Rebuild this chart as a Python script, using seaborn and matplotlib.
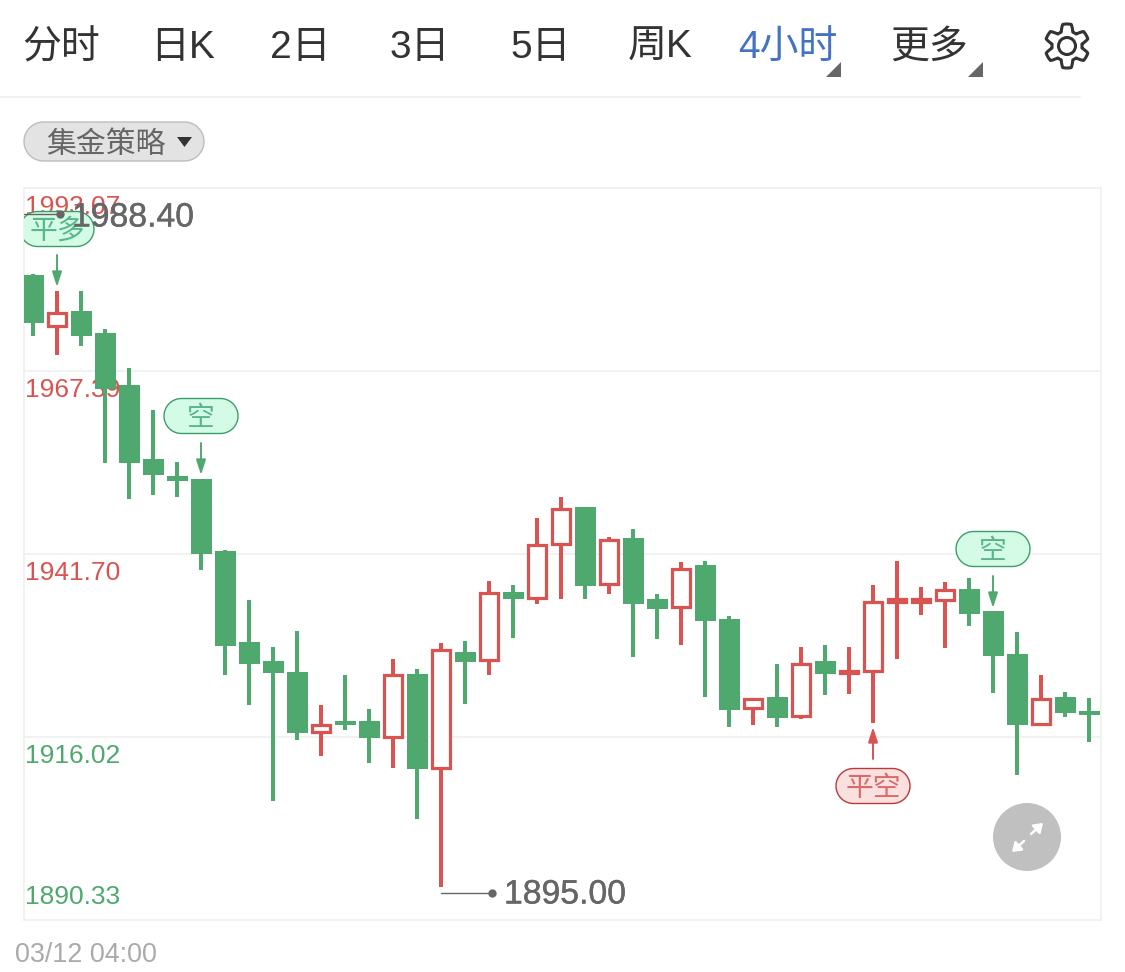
import numpy as np
import pandas as pd
import matplotlib
matplotlib.use('Agg')
import matplotlib.pyplot as plt
import matplotlib.patheffects as pe
from matplotlib.patches import Circle, Polygon, Rectangle
import seaborn as sns

# candles
opens = [1980.86, 1973.56, 1975.81, 1972.72, 1965.42, 1955.03, 1952.65, 1952.23, 1942.12, 1929.35,
         1926.68, 1925.14, 1916.57, 1918.26, 1918.26, 1915.87, 1924.86, 1911.52, 1927.94, 1926.68,
         1936.36, 1935.38, 1942.96, 1948.30, 1937.35, 1943.94, 1935.38, 1934.12, 1940.15, 1932.57,
         1919.94, 1921.63, 1918.82, 1926.68, 1924.86, 1925.14, 1934.82, 1934.82, 1935.10, 1936.79,
         1933.70, 1927.66, 1917.70, 1921.63, 1919.66]
closes = [1974.12, 1975.67, 1972.30, 1964.86, 1954.47, 1952.79, 1951.94, 1941.70, 1928.79, 1926.26,
          1925.00, 1916.57, 1917.84, 1917.70, 1915.87, 1924.86, 1911.52, 1928.36, 1926.54, 1936.36,
          1935.38, 1943.10, 1948.15, 1937.21, 1943.80, 1934.68, 1933.98, 1939.73, 1932.29, 1919.80,
          1921.49, 1918.68, 1926.40, 1924.86, 1925.42, 1935.10, 1935.52, 1935.52, 1936.79, 1933.28,
          1927.38, 1917.70, 1921.49, 1919.38, 1919.10]
highs = [1981.00, 1978.61, 1978.61, 1973.28, 1967.81, 1961.91, 1954.61, 1952.23, 1942.26, 1935.24,
         1928.65, 1930.89, 1920.50, 1924.71, 1919.94, 1926.96, 1925.56, 1929.21, 1929.49, 1937.91,
         1937.35, 1946.75, 1949.70, 1948.30, 1944.08, 1945.21, 1936.08, 1940.58, 1940.72, 1933.00,
         1921.49, 1926.26, 1928.65, 1928.93, 1928.65, 1937.35, 1940.72, 1937.07, 1937.77, 1938.33,
         1933.70, 1930.75, 1924.71, 1922.33, 1921.49]
lows = [1972.30, 1969.63, 1970.89, 1954.47, 1949.42, 1949.98, 1949.70, 1939.45, 1924.71, 1920.50,
        1907.03, 1915.59, 1913.35, 1916.99, 1912.36, 1911.66, 1904.50, 1895.00, 1920.64, 1924.71,
        1929.91, 1934.68, 1935.38, 1935.38, 1936.08, 1927.24, 1929.77, 1928.93, 1921.63, 1917.42,
        1917.70, 1917.42, 1918.54, 1921.91, 1922.05, 1917.98, 1926.96, 1933.14, 1928.50, 1931.59,
        1922.19, 1910.68, 1917.56, 1918.82, 1915.31]

price_ticks = [1993.07, 1967.39, 1941.70, 1916.02, 1890.33]
price_labels = ['1993.07', '1967.39', '1941.70', '1916.02', '1890.33']
tabs = ['分时', '日K', '2日', '3日', '5日', '周K', '4小时', '更多']

GREEN = '#4fa96f'
RED = '#d95350'
LINE = '#f0f0f0'

sns.set_style('white')
plt.rcParams['font.family'] = ['Liberation Sans', 'Noto Sans CJK SC']

W, H = 1125, 972
fig = plt.figure(figsize=(W / 100, H / 100), dpi=100)
fig.patch.set_facecolor('white')

# chart area, px 24..1101 / 188..920
ax = fig.add_axes([24 / W, 1 - 920 / H, (1101 - 24) / W, (920 - 188) / H])
df = pd.DataFrame({'i': range(len(opens)), 'o': opens, 'c': closes, 'h': highs, 'l': lows})
df['up'] = df['c'] >= df['o']
df['top'] = df[['o', 'c']].max(axis=1)
df['bot'] = df[['o', 'c']].min(axis=1)
up = df[df['up']]
down = df[~df['up']]

for part, col in [(up, RED), (down, GREEN)]:
    sns.barplot(x=part['i'].values, y=(part['h'] - part['l']).values, bottom=part['l'].values,
                native_scale=True, width=0.14, color=col, saturation=1, errorbar=None,
                linewidth=0, ax=ax, zorder=3)
sns.barplot(x=down['i'].values, y=(down['top'] - down['bot']).values, bottom=down['bot'].values,
            native_scale=True, width=0.875, color=GREEN, saturation=1, errorbar=None,
            linewidth=0, ax=ax, zorder=4)
# red bodies are outlined, part of the stroke goes inside the read edge
inset = 0.75 * (price_ticks[0] - price_ticks[-1]) / 732
sns.barplot(x=up['i'].values, y=(up['top'] - up['bot'] - 2 * inset).values, bottom=(up['bot'] + inset).values,
            native_scale=True, width=0.76, color='white', saturation=1, errorbar=None,
            edgecolor=RED, linewidth=2.3, ax=ax, zorder=4)

ax.set_xlim(-0.375, 44.5)
ax.set_ylim(price_ticks[-1], price_ticks[0])
ax.set_xticks([])
ax.set_yticks([])
ax.set_xlabel('')
ax.set_ylabel('')
for s in ax.spines.values():
    s.set_color(LINE)
    s.set_linewidth(1.2)
for p in price_ticks[1:-1]:
    ax.axhline(p, color=LINE, lw=1.2, zorder=1)

trans = ax.get_yaxis_transform()
offsets = [-19, -19, -19, -19, 23]
for p, lab, off, col in zip(price_ticks, price_labels, offsets,
                            [RED, RED, RED, GREEN, GREEN]):
    ax.annotate(lab, xy=(0, p), xycoords=trans, xytext=(1, off), textcoords='offset pixels',
                fontsize=19, color=col, va='center', ha='left', zorder=2)

# overlay in picture pixels for the app chrome
ui = fig.add_axes([0, 0, 1, 1])
ui.set_xlim(0, W)
ui.set_ylim(H, 0)
ui.axis('off')
ui.patch.set_alpha(0)

tab_x = [22, 150, 270, 390, 510, 628, 738, 890]
for name, x in zip(tabs, tab_x):
    ui.text(x, 48, name, fontsize=28, color='#4472c4' if name == '4小时' else '#333333',
            va='center', ha='left')
for x in (841, 983):
    ui.add_patch(Polygon([(x, 62), (x, 77), (x - 15, 77)], color='#666666', lw=0))
ui.plot([0, 1080], [97, 97], color=LINE, lw=1.4)

# gear
t = np.linspace(0, 2 * np.pi, 361)
rad = 18.5 + 3.5 * np.clip(1.8 * np.cos(6 * t) + 0.3, -1, 1)
ui.add_patch(Polygon(np.c_[1067 + rad * np.cos(t + np.pi / 2), 46 + rad * np.sin(t + np.pi / 2)],
                     closed=True, fill=False, ec='#333333', lw=2.2, joinstyle='round'))
ui.add_patch(Circle((1067, 46), 8.5, fill=False, ec='#333333', lw=2.2))


def pill(x0, x1, y0, y1, fc, ec):
    r = (y1 - y0) / 2
    a = np.linspace(-np.pi / 2, np.pi / 2, 40)
    pts = np.r_[np.c_[x1 - r + r * np.cos(a), y0 + r + r * np.sin(a)],
                np.c_[x0 + r - r * np.cos(a), y0 + r - r * np.sin(a)]]
    return ui.add_patch(Polygon(pts, closed=True, fc=fc, ec=ec, lw=1))


# strategy pill
pill(24, 204, 122, 161, '#e3e3e3', '#bdbdbd')
ui.text(46, 145, '集金策略', fontsize=21.5, color='#666666', va='center', ha='left')
ui.add_patch(Polygon([(177, 137), (192, 137), (184.5, 147)], color='#333333', lw=0))


def bubble(cx, cy, label, fc, ec, tc, clip=None):
    p = pill(cx - 37, cx + 37, cy - 17.5, cy + 17.5, fc, ec)
    if clip is not None:
        p.set_clip_path(Rectangle((clip, 0), W, H, transform=ui.transData))
    ui.text(cx, cy + 3, label, fontsize=20, color=tc, va='center', ha='center')


def arrow(x, y0, y1, col):
    ui.annotate('', xy=(x, y1), xytext=(x, y0),
                arrowprops=dict(arrowstyle='-|>,head_length=0.75,head_width=0.24', color=col, lw=1.4,
                                shrinkA=0, shrinkB=0, mutation_scale=12))


bubble(57, 229, '平多', '#d3fbe6', '#3f9d6a', '#5ab58a', clip=24)
bubble(201, 416, '空', '#d3fbe6', '#3f9d6a', '#5ab58a')
bubble(993, 549, '空', '#d3fbe6', '#3f9d6a', '#5ab58a')
bubble(873, 786, '平空', '#fbe0e0', '#b93a3a', '#d96a6a')
arrow(57, 255, 287, GREEN)
arrow(201, 443, 475, GREEN)
arrow(993, 576, 608, GREEN)
arrow(873, 759, 727, RED)

# high / low markers
stroke = [pe.withStroke(linewidth=0.3, foreground='#666666')]
ui.plot([24, 60], [214, 214], color='#666666', lw=1)
ui.plot([60], [214], 'o', color='#666666', ms=6, mew=0)
ui.text(72, 218, '1988.40', fontsize=24.3, color='#666666', va='center', ha='left', path_effects=stroke)
ui.plot([441, 492], [893, 893], color='#666666', lw=1)
ui.plot([492], [893], 'o', color='#666666', ms=6, mew=0)
ui.text(504, 895, '1895.00', fontsize=24.3, color='#666666', va='center', ha='left', path_effects=stroke)

# expand button
ui.add_patch(Circle((1027, 837), 34, color='#c0c0c0', lw=0))
for a, b in [((1031, 834), (1043, 823)), ((1024, 841), (1012, 852))]:
    ui.annotate('', xy=b, xytext=a,
                arrowprops=dict(arrowstyle='-|>,head_length=0.5,head_width=0.35', color='white', lw=1.8,
                                shrinkA=0, shrinkB=0, mutation_scale=10))

ui.text(15, 955, '03/12 04:00', fontsize=19.4, color='#aaaaaa', va='center', ha='left')

fig.savefig('out.png', dpi=100)
